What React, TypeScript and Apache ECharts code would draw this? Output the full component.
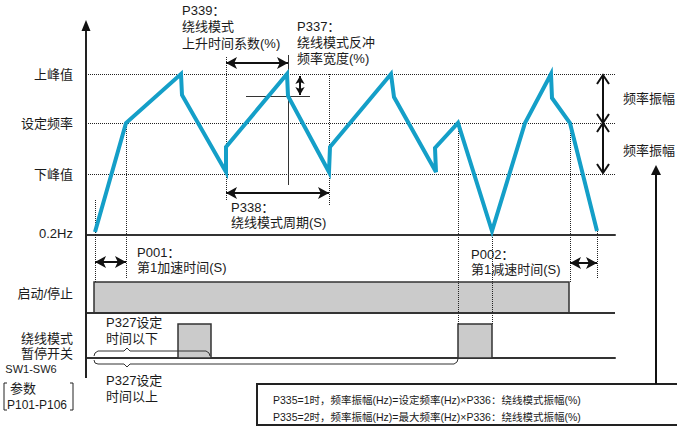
import React, { useEffect, useRef } from "react";
import * as echarts from "echarts";

const FONT = '"Liberation Sans", "Noto Sans CJK SC", sans-serif';
const TXT = "#1a1a1a";

// frequency axis levels (y-axis 0 units)
const levelNames = ["0.2Hz", "下峰值", "设定频率", "上峰值"];
const levelValues = [2, 61, 112, 161];

// timing rows (y-axis 1 units)
const rowNames = ["绕线模式\n暂停开关", "启动/停止"];
const rowValues = [12, 65];

// traverse waveform: time / frequency
const waveTime = [9, 40, 95, 96, 140, 140, 201, 202, 243, 244, 305, 308, 350, 349, 372, 406, 439, 465, 466, 484, 511];
const waveFreq = [3, 112, 161, 140, 63, 88, 161, 139, 63, 88, 161, 138, 63, 87, 112, 4, 112, 161, 137, 112, 4];

// start/stop signal
const runStart = 8;
const runStop = 483;
const runLow = 45;
const runHigh = 76;

// pause switch pulses [start, end]
const pauseStart = [92, 372];
const pauseEnd = [125, 406];
const pauseHigh = 34;

const dotted = { color: "#222", width: 1, type: [1, 1] as number[] };
const thin = { color: "#333", width: 1, type: "solid" };

function vseg(t: number, a: number, b: number, style: any = dotted) {
  return [{ coord: [t, a], lineStyle: style }, { coord: [t, b] }];
}
function hseg(v: number, a: number, b: number, style: any = dotted) {
  return [{ coord: [a, v], lineStyle: style }, { coord: [b, v] }];
}

function txt(x: number, y: number, text: string, size = 13, lineHeight = 14, extra: any = {}) {
  return {
    type: "text",
    x,
    y,
    z: 20,
    style: { text, fontSize: size, lineHeight, fontFamily: FONT, fill: TXT, verticalAlign: "middle", ...extra },
  };
}
function pl(points: number[][], width = 1, color = "#333") {
  return { type: "polyline", z: 20, shape: { points }, style: { stroke: color, lineWidth: width, fill: "none" } };
}

export default function App() {
  const ref = useRef<HTMLDivElement>(null);
  useEffect(() => {
    if (!ref.current) return;
    const chart = echarts.init(ref.current, null, { renderer: "svg" });
    const axisLineStyle = { color: "#333", width: 2 };
    const xBase = {
      type: "value",
      min: 0,
      max: 529,
      axisLine: { show: true, onZero: false, lineStyle: axisLineStyle },
      axisTick: { show: false },
      axisLabel: { show: false },
      splitLine: { show: false },
    };
    const arrowLine = { color: "#111", width: 2, type: "solid" };
    const option: any = {
      animation: false,
      grid: [
        { left: 86, top: 22, width: 529, height: 213 },
        { left: 86, top: 235, width: 529, height: 123 },
      ],
      xAxis: [
        { ...xBase, gridIndex: 0 },
        { ...xBase, gridIndex: 1 },
      ],
      yAxis: [
        {
          gridIndex: 0,
          type: "value",
          min: 0,
          max: 213,
          axisLine: { show: false },
          axisTick: { show: false },
          splitLine: { show: false },
          axisLabel: {
            customValues: levelValues,
            formatter: (v: number) => levelNames[levelValues.indexOf(v)],
            margin: 13,
            fontSize: 13,
            color: TXT,
            fontFamily: FONT,
          },
        },
        {
          gridIndex: 1,
          type: "value",
          min: 0,
          max: 123,
          axisLine: { show: false },
          axisTick: { show: false },
          splitLine: { show: false },
          axisLabel: {
            customValues: rowValues,
            formatter: (v: number) => rowNames[rowValues.indexOf(v)],
            margin: 13,
            fontSize: 13,
            lineHeight: 15,
            align: "right",
            color: TXT,
            fontFamily: FONT,
          },
        },
      ],
      series: [
        {
          type: "line",
          name: "guides",
          xAxisIndex: 0,
          yAxisIndex: 0,
          data: [],
          clip: false,
          z: 2,
          markLine: {
            silent: true,
            z: 2,
            symbol: ["none", "none"],
            label: { show: false },
            lineStyle: dotted,
            data: [
              { yAxis: levelValues[1] },
              { yAxis: levelValues[2] },
              { yAxis: levelValues[3] },
              vseg(9, 35, 0),
              vseg(40, 112, 0),
              vseg(140, 178, 35),
              vseg(202, 180, 50, thin),
              vseg(243, 161, 30),
              vseg(372, 112, 0),
              vseg(406, 4, 0),
              vseg(484, 112, 0),
              vseg(511, 4, 0),
              hseg(139, 160, 224, thin),
            ],
          },
        },
        {
          type: "line",
          name: "arrows",
          xAxisIndex: 0,
          yAxisIndex: 0,
          data: [],
          clip: false,
          z: 6,
          markLine: {
            silent: true,
            z: 6,
            symbol: ["arrow", "arrow"],
            symbolSize: [9, 11],
            label: { show: false },
            lineStyle: arrowLine,
            data: [
              [{ coord: [140, 172] }, { coord: [202, 172] }],
              [{ coord: [214, 159], symbolSize: [7, 8] }, { coord: [214, 140], symbolSize: [7, 8] }],
              [{ coord: [140, 42] }, { coord: [243, 42] }],
            ],
          },
        },
        {
          type: "line",
          name: "wave",
          xAxisIndex: 0,
          yAxisIndex: 0,
          data: waveTime.map((t, i) => [t, waveFreq[i]]),
          symbol: "none",
          showSymbol: false,
          clip: false,
          z: 10,
          lineStyle: { color: "#149fc8", width: 4, join: "miter" },
        },
        {
          type: "line",
          name: "rows",
          xAxisIndex: 1,
          yAxisIndex: 1,
          data: [],
          clip: false,
          z: 3,
          markLine: {
            silent: true,
            z: 3,
            symbol: ["none", "none"],
            label: { show: false },
            lineStyle: dotted,
            data: [
              { yAxis: runLow, lineStyle: { color: "#333", width: 2, type: "solid" } },
              vseg(9, 123, runHigh),
              vseg(40, 123, 79),
              vseg(372, 123, pauseHigh),
              vseg(406, 123, pauseHigh),
              vseg(484, 123, runHigh),
              vseg(511, 123, 79),
            ],
          },
          markArea: {
            silent: true,
            z: 2,
            itemStyle: { color: "#cbcbcb", borderColor: "#333", borderWidth: 1.5 },
            data: [
              [{ coord: [runStart, runLow] }, { coord: [runStop, runHigh] }],
              ...pauseStart.map((s, i) => [{ coord: [s, 0] }, { coord: [pauseEnd[i], pauseHigh] }]),
            ],
          },
        },
        {
          type: "line",
          name: "rowArrows",
          xAxisIndex: 1,
          yAxisIndex: 1,
          data: [],
          clip: false,
          z: 6,
          markLine: {
            silent: true,
            z: 6,
            symbol: ["arrow", "arrow"],
            symbolSize: [9, 11],
            label: { show: false },
            lineStyle: arrowLine,
            data: [
              [{ coord: [9, 96] }, { coord: [40, 96] }],
              [{ coord: [484, 95] }, { coord: [511, 95] }],
            ],
          },
        },
      ],
      graphic: [
        // vertical axis with arrow
        { type: "line", z: 20, shape: { x1: 86, y1: 378, x2: 86, y2: 28 }, style: { stroke: "#222", lineWidth: 2 } },
        { type: "polygon", z: 20, shape: { points: [[86, 20], [81.5, 31], [90.5, 31]] }, style: { fill: "#111" } },
        // annotations
        txt(182, 26.5, "P339：\n绕线模式\n上升时间系数(%)", 13, 16.5),
        txt(297, 42, "P337：\n绕线模式反冲\n频率宽度(%)", 13, 16),
        txt(231, 215, "P338：\n绕线模式周期(S)", 13, 14.5),
        txt(137, 260, "P001：\n第1加速时间(S)", 13, 14.5),
        txt(471, 262, "P002：\n第1减速时间(S)", 13, 14.5),
        txt(106, 330, "P327设定\n时间以下", 13, 16),
        txt(106, 388, "P327设定\n时间以上", 13, 16),
        txt(623, 98, "频率振幅"),
        txt(623, 150, "频率振幅"),
        txt(31, 369, "SW1-SW6", 11, 12, { align: "center" }),
        txt(10, 388, "参数", 13),
        txt(7, 405, "P101-P106", 12),
        // brackets
        pl([[7, 383], [4, 383], [4, 410], [7, 410]], 1, "#222"),
        pl([[70, 383], [73, 383], [73, 410], [70, 410]], 1, "#222"),
        // braces
        pl([[94, 356], [95, 353], [98, 351], [124, 351], [127, 348], [130, 351], [206, 351], [209, 353], [210, 356]]),
        pl([[94, 360], [95, 363], [98, 364], [124, 364], [127, 367], [130, 364], [454, 364], [457, 362], [458, 359]]),
        // amplitude arrows on the right
        { type: "line", z: 20, shape: { x1: 603, y1: 75, x2: 603, y2: 173 }, style: { stroke: "#111", lineWidth: 2 } },
        pl([[597, 84], [603, 75], [609, 84]], 2, "#111"),
        pl([[597, 114], [603, 123], [609, 114]], 2, "#111"),
        pl([[597, 132], [603, 123], [609, 132]], 2, "#111"),
        pl([[597, 164], [603, 173], [609, 164]], 2, "#111"),
        // up arrow to note box
        { type: "line", z: 20, shape: { x1: 656, y1: 172, x2: 656, y2: 384 }, style: { stroke: "#111", lineWidth: 2 } },
        { type: "polygon", z: 20, shape: { points: [[656, 165], [651, 175], [661, 175]] }, style: { fill: "#111" } },
        // note box
        { type: "rect", z: 19, shape: { x: 257, y: 384, width: 440, height: 41 }, style: { fill: "#fff", stroke: "#222", lineWidth: 2 } },
        txt(273, 408.5, "P335=1时，频率振幅(Hz)=设定频率(Hz)×P336：绕线模式振幅(%)\nP335=2时，频率振幅(Hz)=最大频率(Hz)×P336：绕线模式振幅(%)", 10.5, 17),
      ],
    };
    chart.setOption(option);
    return () => chart.dispose();
  }, []);
  return <div ref={ref} style={{ position: "fixed", left: 0, top: 0, width: 677, height: 427, background: "#fff" }} />;
}
